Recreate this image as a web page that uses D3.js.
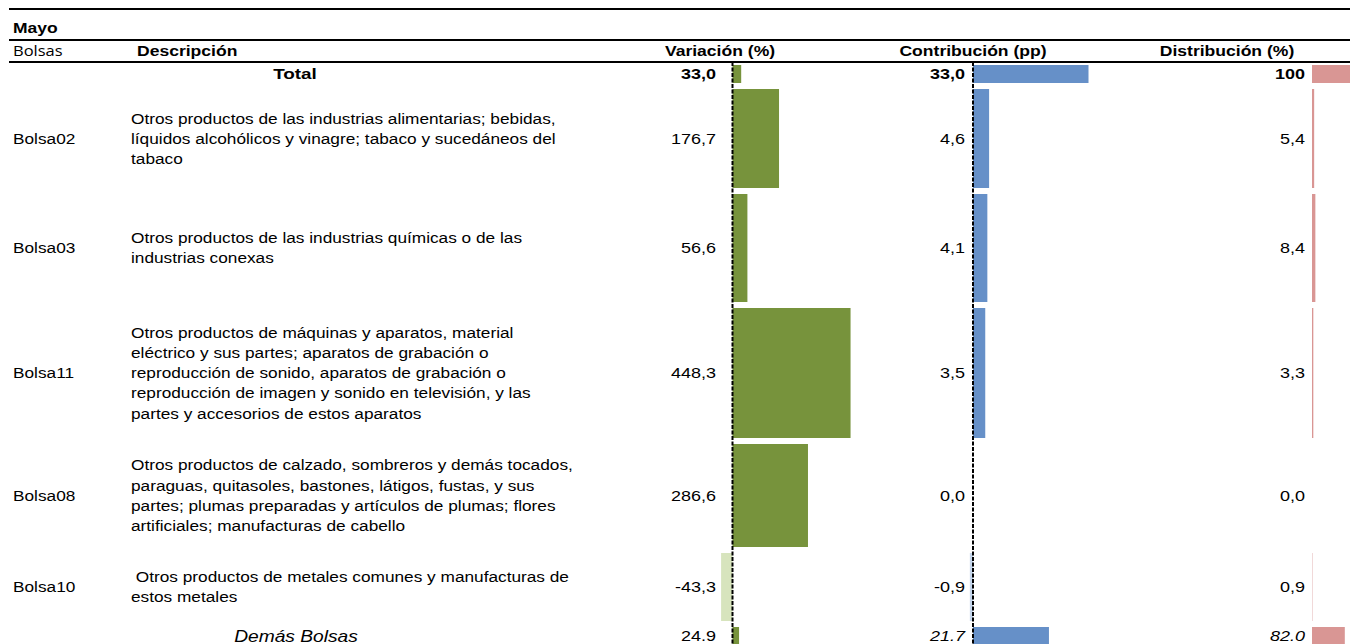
<!DOCTYPE html>
<meta charset="utf-8">
<script src="https://d3js.org/d3.v7.min.js"></script>
<style>
  body { margin: 0; background: #fff; }
  text { font-family: "Liberation Sans", Arial, sans-serif; fill: #000; }
</style>
<div id="my_dataviz"></div>
<script>

// Data
var codes = ["", "Bolsa02", "Bolsa03", "Bolsa11", "Bolsa08", "Bolsa10", ""];
var descriptions = [
  ["Total"],
  ["Otros productos de las industrias alimentarias; bebidas,",
   "líquidos alcohólicos y vinagre; tabaco y sucedáneos del",
   "tabaco"],
  ["Otros productos de las industrias químicas o de las",
   "industrias conexas"],
  ["Otros productos de máquinas y aparatos, material",
   "eléctrico y sus partes; aparatos de grabación o",
   "reproducción de sonido, aparatos de grabación o",
   "reproducción de imagen y sonido en televisión, y las",
   "partes y accesorios de estos aparatos"],
  ["Otros productos de calzado, sombreros y demás tocados,",
   "paraguas, quitasoles, bastones, látigos, fustas, y sus",
   "partes; plumas preparadas y artículos de plumas; flores",
   "artificiales; manufacturas de cabello"],
  [" Otros productos de metales comunes y manufacturas de",
   "estos metales"],
  ["Demás Bolsas"]
];
var variacion    = [33.0, 176.7, 56.6, 448.3, 286.6, -43.3, 24.9];
var contribucion = [33.0, 4.6, 4.1, 3.5, 0.0, -0.9, 21.7];
var distribucion = [100, 5.4, 8.4, 3.3, 0.0, 0.9, 82.0];
var headers = ["Variación (%)", "Contribución (pp)", "Distribución (%)"];

// Layout
var width = 1350, height = 644;
var tableTop = 62;
var rowHeights = [24, 105, 114, 136, 109, 74, 24];
var rowTops = [];
rowHeights.reduce(function(acc, h) { rowTops.push(acc); return acc + h; }, tableTop);
var barPad = 3;
var last = codes.length - 1;

var svg = d3.select("#my_dataviz")
  .append("svg")
  .attr("width", width)
  .attr("height", height);

// scales for each block of bars
var xVar = d3.scaleLinear().domain([0, 450]).range([732.5, 851]);
var xCon = d3.scaleLinear().domain([0, 33]).range([973, 1088.5]);
var xDis = d3.scaleLinear().domain([0, 100]).range([1312, 1352]);

// the source table is stretched sideways, so text gets a horizontal scale
function addText(x, y, str, o) {
  o = o || {};
  var t = svg.append("text")
    .attr("transform", "translate(" + x + "," + y + ") scale(" + (o.sx || 1.15) + ",1)")
    .attr("dy", o.dy || 0)
    .attr("text-anchor", o.anchor || "start")
    .attr("xml:space", "preserve")
    .style("font-size", (o.size || 15) + "px")
    .text(str);
  if (o.bold) t.style("font-weight", "bold");
  if (o.italic) t.style("font-style", "italic");
  if (o.family) t.style("font-family", o.family);
  return t;
}

// number labels: comma decimals, except the last (italic) row
function fmt(v, i) {
  var s = d3.format(".1f")(v).replace("−", "-");
  return i === last ? s : s.replace(".", ",");
}

// horizontal rules
[9, 40, 62].forEach(function(y) {
  svg.append("line")
    .attr("x1", 9).attr("x2", width)
    .attr("y1", y).attr("y2", y)
    .attr("stroke", "#000").attr("stroke-width", 2);
});

addText(13, 33, "Mayo", {size: 14, bold: true, sx: 1.25});
addText(13, 56, "Bolsas", {size: 14, sx: 1.18, family: "'Open Sans', sans-serif"});
addText(137, 56, "Descripción", {size: 15, bold: true, sx: 1.17});

var headerX = [720, 973, 1227];
headers.forEach(function(h, i) {
  addText(headerX[i], 56, h, {anchor: "middle", bold: true, sx: 1.17});
});

function mid(i) { return rowTops[i] + rowHeights[i] / 2; }

// codes and descriptions
d3.range(codes.length).forEach(function(i) {
  if (codes[i]) addText(13, mid(i), codes[i], {dy: "0.35em", sx: 1.15});
  var lines = descriptions[i];
  var lh = 20.2;
  if (i === 0) {
    addText(295, mid(i), lines[0], {dy: "0.35em", anchor: "middle", bold: true, size: 15.5, sx: 1.22});
  } else if (i === last) {
    addText(296, mid(i), lines[0], {dy: "0.35em", anchor: "middle", italic: true, size: 16, sx: 1.2});
  } else {
    lines.forEach(function(l, k) {
      addText(131, mid(i) + (k - (lines.length - 1) / 2) * lh, l, {dy: "0.35em", sx: 1.15});
    });
  }
});

// bars + values for each block
var blocks = [
  {data: variacion, x: xVar, labelX: 716, pos: "#77933c", neg: "#d7e4bd"},
  {data: contribucion, x: xCon, labelX: 965, pos: "#6690c8", neg: "#c5d6ec"},
  {data: distribucion, x: xDis, labelX: 1305, pos: "#d99694", neg: "#d99694"}
];

blocks.forEach(function(b, bi) {
  svg.selectAll(".bar" + bi).data(d3.range(codes.length)).enter().append("rect")
    .attr("x", function(i) { return b.x(Math.min(0, b.data[i])); })
    .attr("y", function(i) { return rowTops[i] + barPad; })
    .attr("width", function(i) { return Math.abs(b.x(b.data[i]) - b.x(0)); })
    .attr("height", function(i) { return rowHeights[i] - 2 * barPad; })
    .attr("fill", function(i) { return b.data[i] < 0 ? b.neg : b.pos; });

  b.data.forEach(function(v, i) {
    var label = (bi === 2 && i === 0) ? d3.format("d")(v) : fmt(v, i);
    addText(b.labelX, mid(i), label, {
      dy: "0.35em", anchor: "end", sx: 1.2,
      bold: i === 0,
      italic: i === last && bi > 0
    });
  });
});

// dashed zero lines
[xVar(0), xCon(0)].forEach(function(x0) {
  svg.append("line")
    .attr("x1", x0).attr("x2", x0)
    .attr("y1", tableTop).attr("y2", height)
    .attr("stroke", "#000").attr("stroke-width", 2)
    .attr("stroke-dasharray", "4,1.5");
});

</script>
